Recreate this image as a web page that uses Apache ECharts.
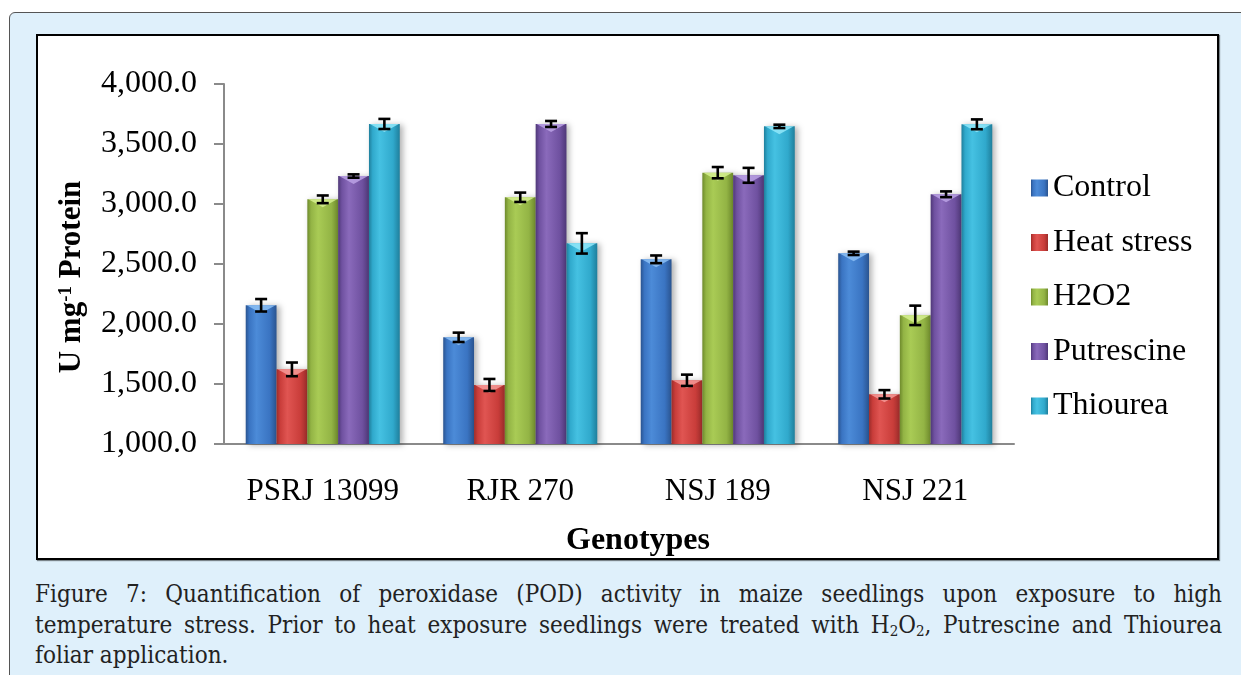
<!DOCTYPE html>
<html>
<head>
<meta charset="utf-8">
<script src="https://cdn.jsdelivr.net/npm/echarts@6/dist/echarts.min.js"></script>
<style>
  body { margin: 0; width: 1241px; height: 675px; background: #fff; overflow: hidden; position: relative; }
  #outer { position: absolute; left: 9px; top: 12px; width: 1260px; height: 700px; background: #dff0fb;
           border: 1.5px solid #555; border-radius: 6px; }
  #inner { position: absolute; left: 36px; top: 34px; width: 1179px; height: 522px; background: #fff;
           border: 2.5px solid #000; box-shadow: 1px 1px 1px rgba(0,0,0,0.45); }
  #caption { position: absolute; left: 35px; top: 579px; width: 1187px; color: #222;
             font-family: "DejaVu Serif Condensed", "DejaVu Serif", serif; font-stretch: condensed;
             font-size: 24px; line-height: 30.5px; }
  #caption div { text-align: justify; text-align-last: justify; white-space: nowrap; height: 30.5px; }
  #caption div.last { text-align-last: left; }
  #caption sub { font-size: 15px; vertical-align: -3px; line-height: 0; }
  #chart { position: absolute; left: 0; top: 0; width: 1241px; height: 675px; }
</style>
</head>
<body>
<div id="outer"></div>
<div id="inner"></div>
<div id="caption">
  <div>Figure 7: Quantification of peroxidase (POD) activity in maize seedlings upon exposure to high</div>
  <div>temperature stress. Prior to heat exposure seedlings were treated with H<sub>2</sub>O<sub>2</sub>, Putrescine and Thiourea</div>
  <div class="last">foliar application.</div>
</div>
<div id="chart"></div>
<script>
// genotypes on the x axis
const categories = ['PSRJ 13099', 'RJR 270', 'NSJ 189', 'NSJ 221']
const seriesNames = ['Control', 'Heat stress', 'H2O2', 'Putrescine', 'Thiourea']

// POD activity (U mg-1 protein)
const control = [2156, 1889, 2539, 2589]
const heatStress = [1622, 1492, 1531, 1414]
const h2o2 = [3039, 3056, 3261, 2072]
const putrescine = [3233, 3667, 3239, 3081]
const thiourea = [3667, 2672, 3647, 3664]

// error bar half widths
const controlErr = [52, 39, 32, 14]
const heatStressErr = [57, 50, 47, 35]
const h2o2Err = [32, 39, 47, 81]
const putrescineErr = [14, 25, 62, 24]
const thioureaErr = [42, 85, 14, 41]

const yTicks = [1000, 1500, 2000, 2500, 3000, 3500, 4000]

const values = [control, heatStress, h2o2, putrescine, thiourea]
const errors = [controlErr, heatStressErr, h2o2Err, putrescineErr, thioureaErr]

// bar shades: edge, mid, light, top bevel
const shades = [
  ['#2a5490', '#3a74c2', '#4c8bd8', '#8cc0f5'],
  ['#9c2c2a', '#c93d3a', '#e05552', '#f49a98'],
  ['#6e8a2c', '#93b445', '#a9cb55', '#d6f090'],
  ['#4f3878', '#6f51a0', '#8a6abb', '#bba2e5'],
  ['#1f7f9c', '#30a9cc', '#45c1e2', '#92e8f9']
]
const catGap = 0.22
const font = '"Liberation Serif", "Times New Roman", serif'

function barColor (s) {
  return new echarts.graphic.LinearGradient(0, 0, 1, 0, [
    {offset: 0, color: s[0]},
    {offset: 0.12, color: s[1]},
    {offset: 0.35, color: s[2]},
    {offset: 0.78, color: s[1]},
    {offset: 1, color: s[0]}
  ])
}

let series = seriesNames.map(function (name, i) {
  return {
    name: name,
    type: 'bar',
    data: values[i],
    barGap: 0,
    barCategoryGap: (catGap * 100) + '%',
    itemStyle: {
      color: barColor(shades[i]),
      shadowBlur: 6,
      shadowOffsetX: 3,
      shadowOffsetY: 1,
      shadowColor: 'rgba(0,0,0,0.3)'
    }
  }
})

// top bevel and error bars, placed on the same slots as the bars
let errData = []
values.forEach(function (vals, si) {
  vals.forEach(function (v, ci) {
    errData.push([ci, si, v, errors[si][ci]])
  })
})
series.push({
  type: 'custom',
  z: 5,
  silent: true,
  encode: {x: 0, y: 2},
  data: errData,
  renderItem: function (params, api) {
    let ci = api.value(0)
    let si = api.value(1)
    let v = api.value(2)
    let e = api.value(3)
    let p = api.coord([ci, v])
    let band = api.size([1, 0])[0]
    let groupW = band * (1 - catGap)
    let barW = groupW / 5
    let xl = p[0] - groupW / 2 + barW * si
    let xc = xl + barW / 2
    let yTop = api.coord([ci, v + e])[1]
    let yBot = api.coord([ci, v - e])[1]
    let cap = 6
    let lineStyle = {stroke: '#000', lineWidth: 2.6}
    return {
      type: 'group',
      children: [
        {type: 'polygon', shape: {points: [[xl + 1, p[1]], [xl + barW - 1, p[1]], [xc, p[1] + 8]]},
          style: {fill: shades[si][3], opacity: 0.85}},
        {type: 'line', shape: {x1: xc, y1: yTop, x2: xc, y2: yBot}, style: lineStyle},
        {type: 'line', shape: {x1: xc - cap, y1: yTop, x2: xc + cap, y2: yTop}, style: lineStyle},
        {type: 'line', shape: {x1: xc - cap, y1: yBot, x2: xc + cap, y2: yBot}, style: lineStyle}
      ]
    }
  }
})

let option = {
  animation: false,
  textStyle: {fontFamily: font},
  grid: {left: 224, top: 84, width: 790, height: 360},
  legend: {
    orient: 'vertical',
    left: 1031,
    top: 172,
    padding: 0,
    itemWidth: 17,
    itemHeight: 17,
    itemGap: 22.5,
    icon: 'rect',
    data: seriesNames,
    textStyle: {fontSize: 32, color: '#000', fontFamily: font}
  },
  xAxis: {
    type: 'category',
    data: categories,
    axisTick: {show: false},
    axisLine: {lineStyle: {color: '#8a8a8a', width: 2}},
    axisLabel: {interval: 0, fontSize: 31, color: '#000', margin: 32, fontFamily: font}
  },
  yAxis: {
    type: 'value',
    min: yTicks[0],
    max: yTicks[yTicks.length - 1],
    interval: 500,
    splitLine: {show: false},
    axisLine: {show: true, lineStyle: {color: '#8a8a8a', width: 2}},
    axisTick: {show: true, length: 10, lineStyle: {color: '#8a8a8a', width: 2}},
    axisLabel: {
      fontSize: 32,
      color: '#000',
      margin: 27,
      fontFamily: font,
      formatter: function (v) {
        return v.toLocaleString('en-US', {minimumFractionDigits: 1, maximumFractionDigits: 1})
      }
    }
  },
  graphic: [
    {
      type: 'text',
      x: 72,
      y: 277,
      rotation: Math.PI / 2,
      style: {
        text: '{a|U mg}{s|-1}{a| Protein}',
        align: 'center',
        verticalAlign: 'middle',
        rich: {
          a: {fontSize: 31, fontWeight: 'bold', fontFamily: font, fill: '#000'},
          s: {fontSize: 19, fontWeight: 'bold', fontFamily: font, fill: '#000', verticalAlign: 'top'}
        }
      }
    },
    {
      type: 'text',
      x: 638,
      y: 541,
      style: {
        text: 'Genotypes',
        align: 'center',
        verticalAlign: 'middle',
        fontSize: 32,
        fontWeight: 'bold',
        fontFamily: font,
        fill: '#000'
      }
    }
  ],
  series: series
}

let chart = echarts.init(document.getElementById('chart'))
chart.setOption(option)
</script>
</body>
</html>
